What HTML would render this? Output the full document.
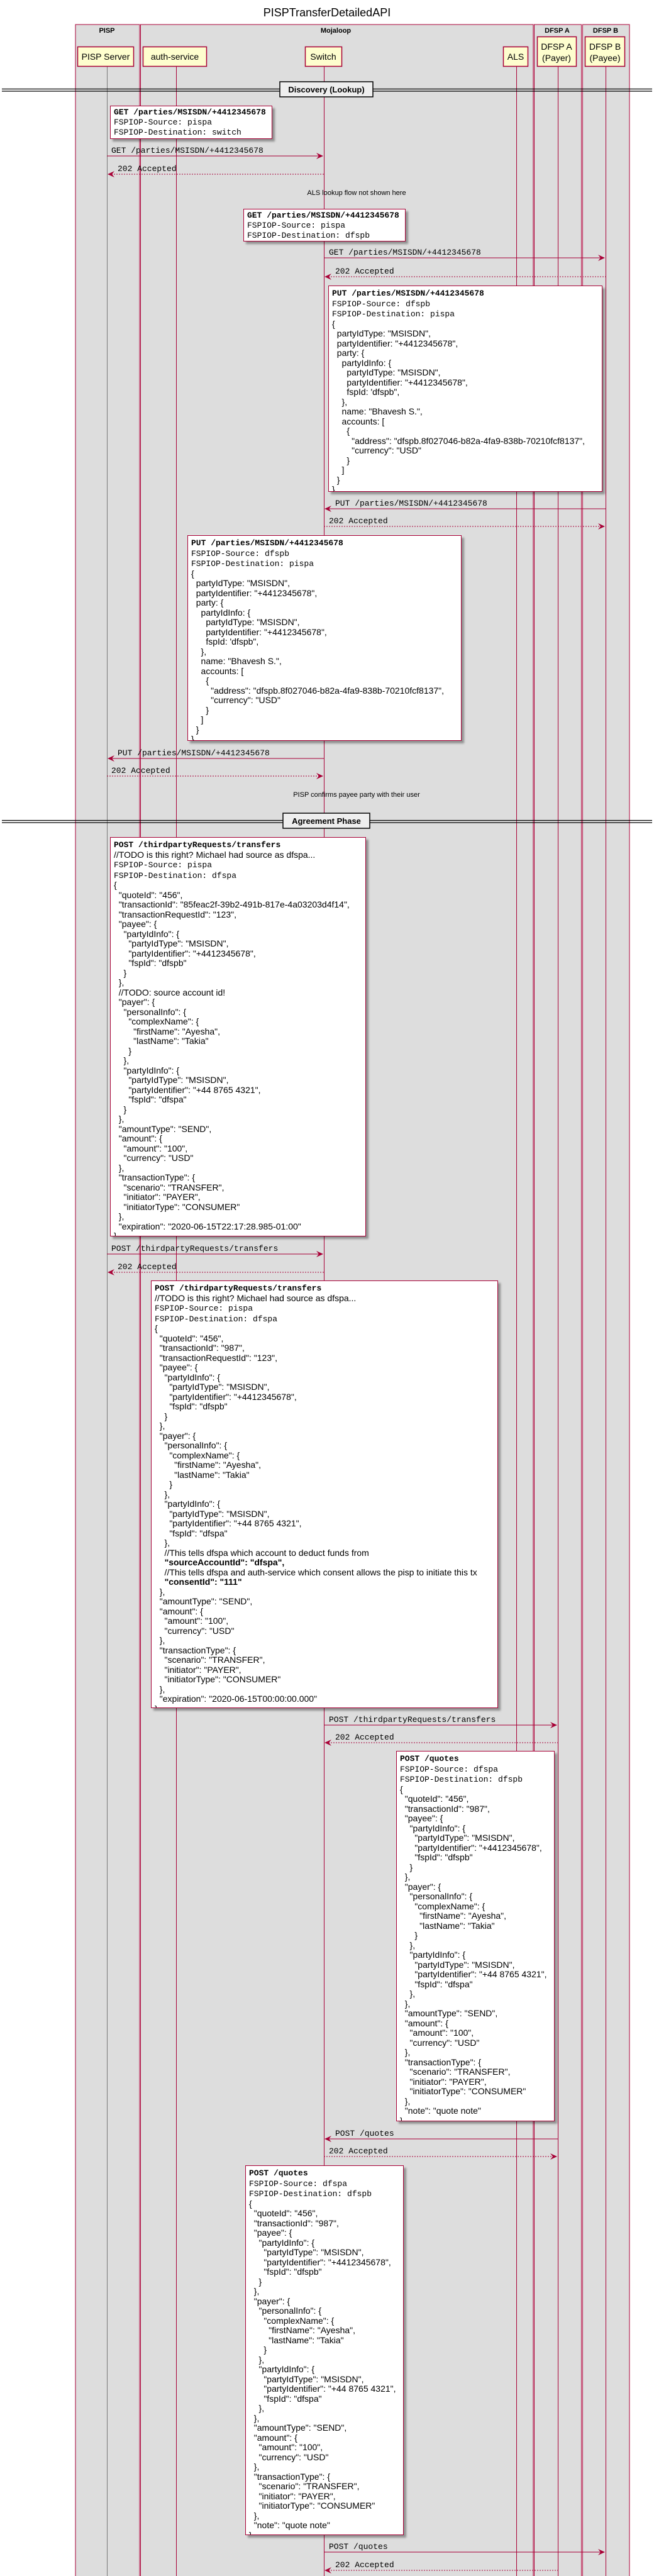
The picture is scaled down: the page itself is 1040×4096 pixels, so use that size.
<!DOCTYPE html>
<html><head><meta charset="utf-8">
<style>
html,body{margin:0;padding:0;background:#fff;}
body{width:1040px;height:4096px;position:relative;overflow:hidden;font-family:"Liberation Sans",sans-serif;}
svg{position:absolute;left:0;top:0;}
.note{position:absolute;background:#fff;border:1px solid #A80036;box-shadow:4px 4px 3px rgba(0,0,0,0.35);box-sizing:border-box;padding:3px 0 0 5px;white-space:pre;overflow:hidden;font-family:"Liberation Sans",sans-serif;font-size:14px;line-height:15.5px;color:#000;}
.s{padding-top:1px;line-height:15px;}
.m{font-family:"Liberation Mono",monospace;font-size:13px;}
.b{font-weight:bold;}
</style></head><body>
<svg width="1040" height="4096" xmlns="http://www.w3.org/2000/svg">
<text x="520" y="26" text-anchor="middle" font-family="Liberation Sans, sans-serif" font-size="18">PISPTransferDetailedAPI</text>
<rect x="120" y="39" width="102" height="4070" fill="#DDDDDD" stroke="#A80036" stroke-width="1"/>
<rect x="223.5" y="39" width="624.5" height="4070" fill="#DDDDDD" stroke="#A80036" stroke-width="1"/>
<rect x="849.5" y="39" width="75" height="4070" fill="#DDDDDD" stroke="#A80036" stroke-width="1"/>
<rect x="926.5" y="39" width="74.5" height="4070" fill="#DDDDDD" stroke="#A80036" stroke-width="1"/>
<g font-family="Liberation Sans, sans-serif" font-size="11" font-weight="bold" text-anchor="middle">
<text x="170" y="52">PISP</text><text x="534" y="52">Mojaloop</text><text x="886" y="52">DFSP A</text><text x="963" y="52">DFSP B</text>
</g>
<g stroke-width="1">
<line x1="170.5" y1="105" x2="170.5" y2="4096" stroke="#777"/>
<line x1="280.5" y1="105" x2="280.5" y2="4096" stroke="#A80036"/>
<line x1="515.5" y1="105" x2="515.5" y2="4096" stroke="#A80036"/>
<line x1="821.5" y1="105" x2="821.5" y2="4096" stroke="#A80036"/>
<line x1="887.5" y1="105" x2="887.5" y2="4096" stroke="#A80036"/>
<line x1="963.5" y1="105" x2="963.5" y2="4096" stroke="#A80036"/>
</g>
<g fill="#FEFECE" stroke="#A80036" stroke-width="1.5">
<rect x="123.5" y="74.5" width="89" height="31"/>
<rect x="227.5" y="74.5" width="101" height="31"/>
<rect x="485.5" y="74.5" width="58" height="31"/>
<rect x="800.5" y="74.5" width="39" height="31"/>
<rect x="854.5" y="58.5" width="62" height="47"/>
<rect x="930.5" y="58.5" width="63" height="47"/>
</g>
<g font-family="Liberation Sans, sans-serif" font-size="14" text-anchor="middle">
<text x="168" y="95">PISP Server</text><text x="278" y="95">auth-service</text><text x="514" y="95">Switch</text><text x="820" y="95">ALS</text>
<text x="885" y="79">DFSP A</text><text x="885" y="97">(Payer)</text>
<text x="962" y="79">DFSP B</text><text x="962" y="97">(Payee)</text>
</g>
<g>
<line x1="3" y1="141.5" x2="1037" y2="141.5" stroke="#000" stroke-width="1.2"/>
<line x1="3" y1="145" x2="1037" y2="145" stroke="#000" stroke-width="1.2"/>
<rect x="445" y="130" width="148" height="24" fill="#EEEEEE" stroke="#000" stroke-width="1.5"/>
<text x="519" y="147" text-anchor="middle" font-family="Liberation Sans, sans-serif" font-size="13" font-weight="bold">Discovery (Lookup)</text>
<line x1="3" y1="1304.5" x2="1037" y2="1304.5" stroke="#000" stroke-width="1.2"/>
<line x1="3" y1="1308" x2="1037" y2="1308" stroke="#000" stroke-width="1.2"/>
<rect x="450" y="1293" width="138" height="24" fill="#EEEEEE" stroke="#000" stroke-width="1.5"/>
<text x="519" y="1310" text-anchor="middle" font-family="Liberation Sans, sans-serif" font-size="13" font-weight="bold">Agreement Phase</text>
</g>
<g font-family="Liberation Sans, sans-serif" font-size="11" text-anchor="middle">
<text x="567" y="310">ALS lookup flow not shown here</text>
<text x="567" y="1267">PISP confirms payee party with their user</text>
</g>
<g stroke="#A80036" stroke-width="1" fill="none">
<line x1="170" y1="248" x2="513" y2="248"/>
<line x1="173" y1="277" x2="515" y2="277" stroke-dasharray="2,2"/>
<line x1="515" y1="410" x2="961" y2="410"/>
<line x1="518" y1="440" x2="963" y2="440" stroke-dasharray="2,2"/>
<line x1="518" y1="809" x2="963" y2="809"/>
<line x1="515" y1="837" x2="961" y2="837" stroke-dasharray="2,2"/>
<line x1="173" y1="1206" x2="515" y2="1206"/>
<line x1="170" y1="1234" x2="513" y2="1234" stroke-dasharray="2,2"/>
<line x1="170" y1="1994" x2="513" y2="1994"/>
<line x1="173" y1="2023" x2="515" y2="2023" stroke-dasharray="2,2"/>
<line x1="515" y1="2743" x2="885" y2="2743"/>
<line x1="518" y1="2771" x2="887" y2="2771" stroke-dasharray="2,2"/>
<line x1="518" y1="3401" x2="887" y2="3401"/>
<line x1="515" y1="3429" x2="885" y2="3429" stroke-dasharray="2,2"/>
<line x1="515" y1="4058" x2="961" y2="4058"/>
<line x1="518" y1="4087" x2="887" y2="4087" stroke-dasharray="2,2"/>
</g>
<g fill="#A80036">
<polygon points="514,248 503,243 507,248 503,253"/>
<polygon points="171,277 182,272 178,277 182,282"/>
<polygon points="962,410 951,405 955,410 951,415"/>
<polygon points="516,440 527,435 523,440 527,445"/>
<polygon points="516,809 527,804 523,809 527,814"/>
<polygon points="962,837 951,832 955,837 951,842"/>
<polygon points="171,1206 182,1201 178,1206 182,1211"/>
<polygon points="514,1234 503,1229 507,1234 503,1239"/>
<polygon points="514,1994 503,1989 507,1994 503,1999"/>
<polygon points="171,2023 182,2018 178,2023 182,2028"/>
<polygon points="886,2743 875,2738 879,2743 875,2748"/>
<polygon points="516,2771 527,2766 523,2771 527,2776"/>
<polygon points="516,3401 527,3396 523,3401 527,3406"/>
<polygon points="886,3429 875,3424 879,3429 875,3434"/>
<polygon points="962,4058 951,4053 955,4058 951,4063"/>
<polygon points="516,4087 527,4082 523,4087 527,4092"/>
</g>
<g font-family="Liberation Mono, monospace" font-size="13" fill="#000">
<text x="177" y="243">GET /parties/MSISDN/+4412345678</text>
<text x="187" y="272">202 Accepted</text>
<text x="523" y="405">GET /parties/MSISDN/+4412345678</text>
<text x="533" y="435">202 Accepted</text>
<text x="533" y="804">PUT /parties/MSISDN/+4412345678</text>
<text x="523" y="832">202 Accepted</text>
<text x="187" y="1201">PUT /parties/MSISDN/+4412345678</text>
<text x="177" y="1229">202 Accepted</text>
<text x="177" y="1989">POST /thirdpartyRequests/transfers</text>
<text x="187" y="2018">202 Accepted</text>
<text x="523" y="2738">POST /thirdpartyRequests/transfers</text>
<text x="533" y="2766">202 Accepted</text>
<text x="533" y="3396">POST /quotes</text>
<text x="523" y="3424">202 Accepted</text>
<text x="523" y="4053">POST /quotes</text>
<text x="533" y="4082">202 Accepted</text>
</g>
</svg>

<div class="note s" style="left:175px;top:168px;width:258px;height:53px;"><span class="m b">GET /parties/MSISDN/+4412345678</span>
<span class="m">FSPIOP-Source: pispa</span>
<span class="m">FSPIOP-Destination: switch</span></div>

<div class="note s" style="left:387px;top:332px;width:258px;height:52px;"><span class="m b">GET /parties/MSISDN/+4412345678</span>
<span class="m">FSPIOP-Source: pispa</span>
<span class="m">FSPIOP-Destination: dfspb</span></div>

<div class="note" style="left:522px;top:454px;width:436px;height:328px;"><span class="m b">PUT /parties/MSISDN/+4412345678</span>
<span class="m">FSPIOP-Source: dfspb</span>
<span class="m">FSPIOP-Destination: pispa</span>
{
  partyIdType: "MSISDN",
  partyIdentifier: "+4412345678",
  party: {
    partyIdInfo: {
      partyIdType: "MSISDN",
      partyIdentifier: "+4412345678",
      fspId: 'dfspb",
    },
    name: "Bhavesh S.",
    accounts: [
      {
        "address": "dfspb.8f027046-b82a-4fa9-838b-70210fcf8137",
        "currency": "USD"
      }
    ]
  }
}</div>

<div class="note" style="left:298px;top:851px;width:436px;height:327px;"><span class="m b">PUT /parties/MSISDN/+4412345678</span>
<span class="m">FSPIOP-Source: dfspb</span>
<span class="m">FSPIOP-Destination: pispa</span>
{
  partyIdType: "MSISDN",
  partyIdentifier: "+4412345678",
  party: {
    partyIdInfo: {
      partyIdType: "MSISDN",
      partyIdentifier: "+4412345678",
      fspId: 'dfspb",
    },
    name: "Bhavesh S.",
    accounts: [
      {
        "address": "dfspb.8f027046-b82a-4fa9-838b-70210fcf8137",
        "currency": "USD"
      }
    ]
  }
}</div>

<div class="note" style="left:175px;top:1331px;width:407px;height:635px;"><span class="m b">POST /thirdpartyRequests/transfers</span>
//TODO is this right? Michael had source as dfspa...
<span class="m">FSPIOP-Source: pispa</span>
<span class="m">FSPIOP-Destination: dfspa</span>
{
  "quoteId": "456",
  "transactionId": "85feac2f-39b2-491b-817e-4a03203d4f14",
  "transactionRequestId": "123",
  "payee": {
    "partyIdInfo": {
      "partyIdType": "MSISDN",
      "partyIdentifier": "+4412345678",
      "fspId": "dfspb"
    }
  },
  //TODO: source account id!
  "payer": {
    "personalInfo": {
      "complexName": {
        "firstName": "Ayesha",
        "lastName": "Takia"
      }
    },
    "partyIdInfo": {
      "partyIdType": "MSISDN",
      "partyIdentifier": "+44 8765 4321",
      "fspId": "dfspa"
    }
  },
  "amountType": "SEND",
  "amount": {
    "amount": "100",
    "currency": "USD"
  },
  "transactionType": {
    "scenario": "TRANSFER",
    "initiator": "PAYER",
    "initiatorType": "CONSUMER"
  },
  "expiration": "2020-06-15T22:17:28.985-01:00"
}</div>

<div class="note" style="left:240px;top:2036px;width:552px;height:680px;"><span class="m b">POST /thirdpartyRequests/transfers</span>
//TODO is this right? Michael had source as dfspa...
<span class="m">FSPIOP-Source: pispa</span>
<span class="m">FSPIOP-Destination: dfspa</span>
{
  "quoteId": "456",
  "transactionId": "987",
  "transactionRequestId": "123",
  "payee": {
    "partyIdInfo": {
      "partyIdType": "MSISDN",
      "partyIdentifier": "+4412345678",
      "fspId": "dfspb"
    }
  },
  "payer": {
    "personalInfo": {
      "complexName": {
        "firstName": "Ayesha",
        "lastName": "Takia"
      }
    },
    "partyIdInfo": {
      "partyIdType": "MSISDN",
      "partyIdentifier": "+44 8765 4321",
      "fspId": "dfspa"
    },
    //This tells dfspa which account to deduct funds from
    <b>"sourceAccountId": "dfspa",</b>
    //This tells dfspa and auth-service which consent allows the pisp to initiate this tx
    <b>"consentId": "111"</b>
  },
  "amountType": "SEND",
  "amount": {
    "amount": "100",
    "currency": "USD"
  },
  "transactionType": {
    "scenario": "TRANSFER",
    "initiator": "PAYER",
    "initiatorType": "CONSUMER"
  },
  "expiration": "2020-06-15T00:00:00.000"
}</div>

<div class="note" style="left:630px;top:2784px;width:252px;height:589px;"><span class="m b">POST /quotes</span>
<span class="m">FSPIOP-Source: dfspa</span>
<span class="m">FSPIOP-Destination: dfspb</span>
{
  "quoteId": "456",
  "transactionId": "987",
  "payee": {
    "partyIdInfo": {
      "partyIdType": "MSISDN",
      "partyIdentifier": "+4412345678",
      "fspId": "dfspb"
    }
  },
  "payer": {
    "personalInfo": {
      "complexName": {
        "firstName": "Ayesha",
        "lastName": "Takia"
      }
    },
    "partyIdInfo": {
      "partyIdType": "MSISDN",
      "partyIdentifier": "+44 8765 4321",
      "fspId": "dfspa"
    },
  },
  "amountType": "SEND",
  "amount": {
    "amount": "100",
    "currency": "USD"
  },
  "transactionType": {
    "scenario": "TRANSFER",
    "initiator": "PAYER",
    "initiatorType": "CONSUMER"
  },
  "note": "quote note"
}</div>

<div class="note" style="left:390px;top:3443px;width:252px;height:588px;"><span class="m b">POST /quotes</span>
<span class="m">FSPIOP-Source: dfspa</span>
<span class="m">FSPIOP-Destination: dfspb</span>
{
  "quoteId": "456",
  "transactionId": "987",
  "payee": {
    "partyIdInfo": {
      "partyIdType": "MSISDN",
      "partyIdentifier": "+4412345678",
      "fspId": "dfspb"
    }
  },
  "payer": {
    "personalInfo": {
      "complexName": {
        "firstName": "Ayesha",
        "lastName": "Takia"
      }
    },
    "partyIdInfo": {
      "partyIdType": "MSISDN",
      "partyIdentifier": "+44 8765 4321",
      "fspId": "dfspa"
    },
  },
  "amountType": "SEND",
  "amount": {
    "amount": "100",
    "currency": "USD"
  },
  "transactionType": {
    "scenario": "TRANSFER",
    "initiator": "PAYER",
    "initiatorType": "CONSUMER"
  },
  "note": "quote note"
}</div>
</body></html>
